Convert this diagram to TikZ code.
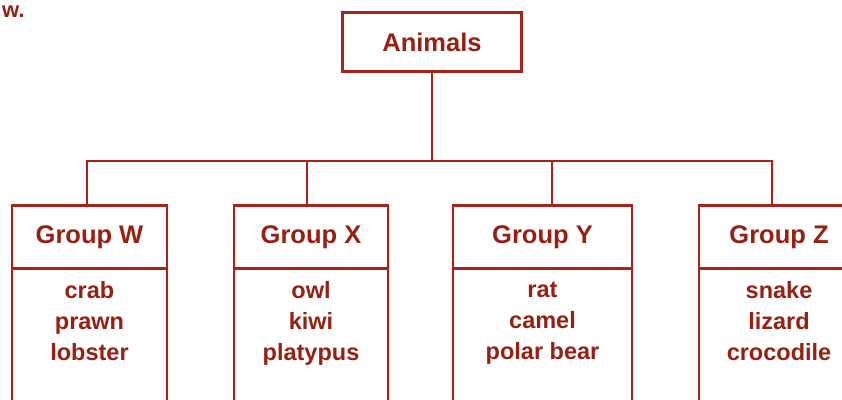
\documentclass[tikz,border=0pt]{standalone}
\usepackage{fontspec}
\setmainfont{Liberation Sans}
\definecolor{linered}{HTML}{A8231A}
\definecolor{textred}{HTML}{962012}
\begin{document}
\begin{tikzpicture}[x=1pt,y=-1pt,
  conn/.style={draw=linered,line width=2.6pt},
  boxline/.style={draw=linered,line width=2.8pt},
  header/.style={boxline,rectangle,inner sep=0pt,outer sep=0pt,minimum height=63pt,
    font=\bfseries\fontsize{25.5}{28}\selectfont,text=textred},
  items/.style={anchor=north,align=center,inner sep=0pt,
    font=\bfseries\fontsize{23.5}{31}\selectfont,text=textred},
  frag/.style={anchor=base west,inner sep=0pt,font=\bfseries\fontsize{22}{26}\selectfont,text=textred}]
\useasboundingbox (0,0) rectangle (842,399);
\clip (0,0) rectangle (842,399);
\fill[white] (0,0) rectangle (842,399);
% top fragment
\node[frag] (frag) at (2,17) {w.};
% root
\node[header,minimum width=179pt,minimum height=59pt] (root) at (432,42) {Animals};
% group headers
\node[header,minimum width=155pt] (hw) at (89.5,237) {Group W};
\node[header,minimum width=154pt] (hx) at (311,237) {Group X};
\node[header,minimum width=179pt] (hy) at (542.5,237) {Group Y};
\node[header,minimum width=160pt] (hz) at (779,237) {Group Z};
% drop points
\coordinate (bus) at (432,161);
\coordinate (dw) at (87,161);
\coordinate (dx) at (307,161);
\coordinate (dy) at (552,161);
\coordinate (dz) at (772,161);
% connectors
\draw[conn] (root.south) -- (bus);
\draw[conn,line cap=rect] (dw) -- (dz);
\draw[conn] (dw) -- (dw |- hw.north);
\draw[conn] (dx) -- (dx |- hx.north);
\draw[conn] (dy) -- (dy |- hy.north);
\draw[conn] (dz) -- (dz |- hz.north);
% box bodies (cut off at the bottom)
\foreach \n in {hw,hx,hy,hz}{
  \draw[boxline] (\n.south west) -- ++(0,160);
  \draw[boxline] (\n.south east) -- ++(0,160);
}
% item lists
\node[items] (iw) at ([yshift=-13pt]hw.south) {crab\\prawn\\lobster};
\node[items] (ix) at ([yshift=-13pt]hx.south) {owl\\kiwi\\platypus};
\node[items] (iy) at ([yshift=-13pt]hy.south) {rat\\camel\\polar bear};
\node[items] (iz) at ([yshift=-13pt]hz.south) {snake\\lizard\\crocodile};
\end{tikzpicture}
\end{document}
